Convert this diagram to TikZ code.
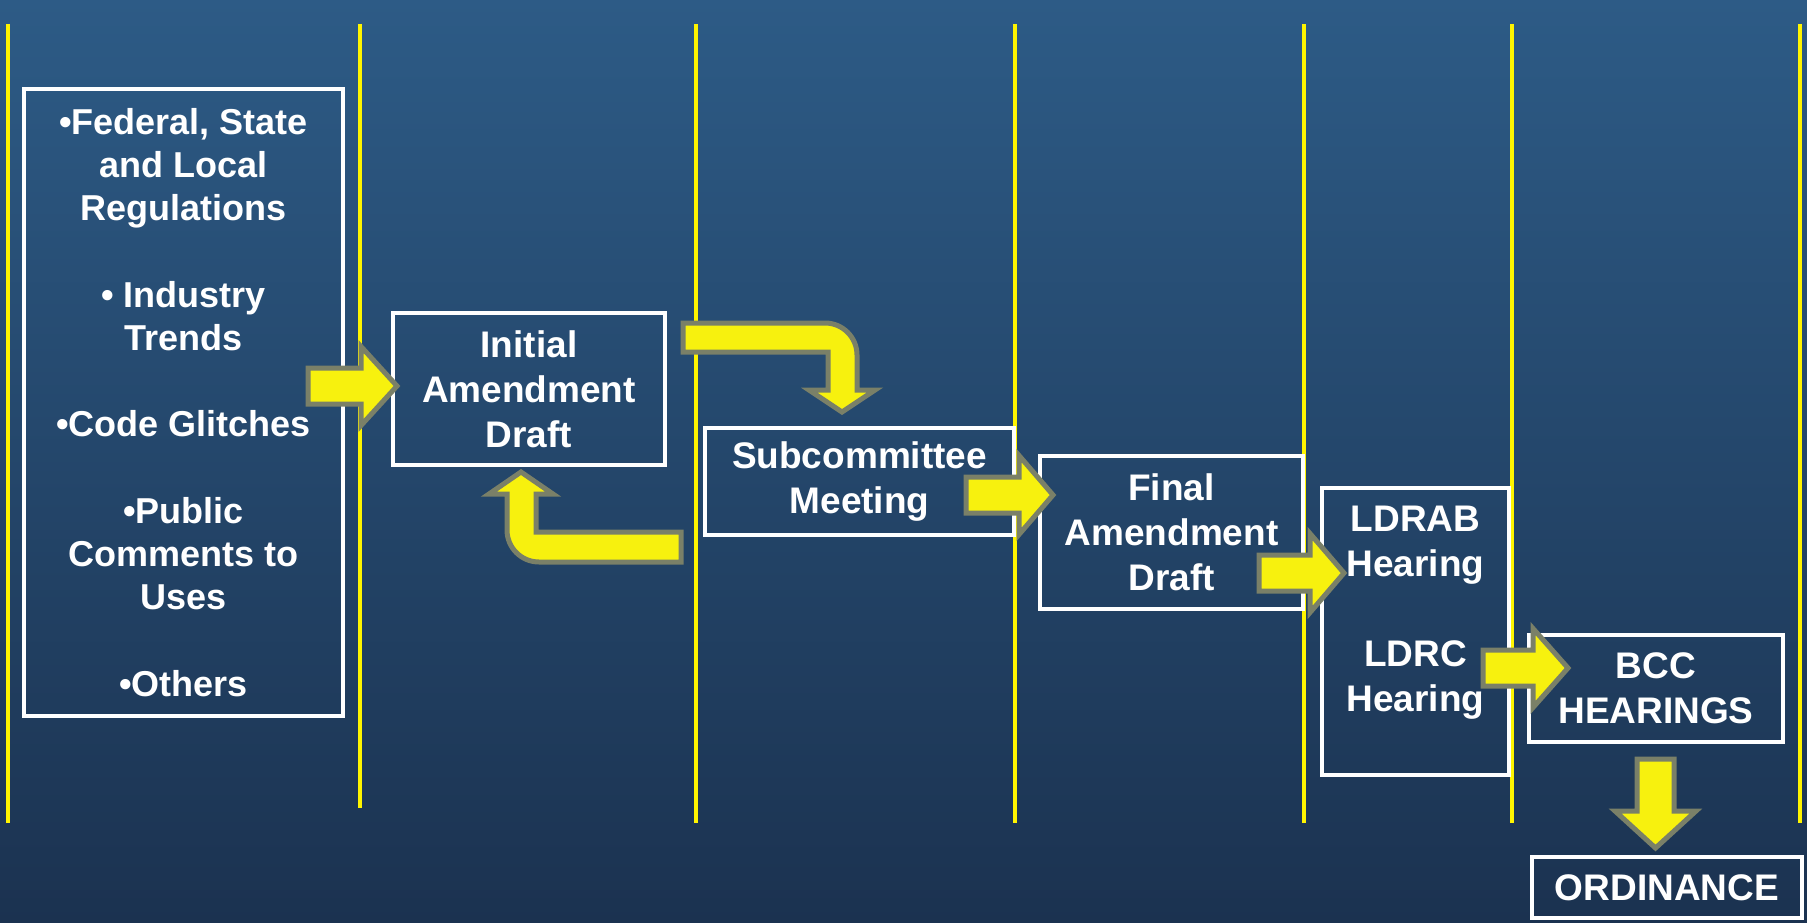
\documentclass[tikz,border=0pt]{standalone}
\usepackage{fontspec}
\setmainfont{Liberation Sans}
\definecolor{bgtop}{RGB}{45,91,134}
\definecolor{bgbot}{RGB}{27,50,80}
\definecolor{laneyellow}{RGB}{255,245,0}
\definecolor{arrowfill}{RGB}{247,241,14}
\definecolor{arrowedge}{RGB}{122,128,104}
\tikzset{
  lane/.style={draw=laneyellow, line width=4pt},
  stage/.style={draw=white, line width=4pt, inner sep=0pt, align=center,
    text=white, font=\fontsize{37}{45}\selectfont\bfseries},
  blockarrow/.style={fill=arrowfill, draw=arrowedge, line width=5pt, line join=miter},
}
% right-pointing block arrow: start x, head base x, tip x, centre y
\newcommand{\rblock}[4]{%
  \draw[blockarrow] (#1,#4-18) -- (#2,#4-18) -- (#2,#4-39.5) -- (#3,#4)
    -- (#2,#4+39.5) -- (#2,#4+18) -- (#1,#4+18) -- cycle;}
\begin{document}
\begin{tikzpicture}[x=1pt,y=-1pt]
\shade[top color=bgtop, bottom color=bgbot] (0,0) rectangle (1807,923);
\useasboundingbox (0,0) rectangle (1807,923);
% lanes
\draw[lane] (8,24) -- (8,823);
\draw[lane] (360,24) -- (360,808);
\draw[lane] (696,24) -- (696,823);
\draw[lane] (1015,24) -- (1015,823);
\draw[lane] (1303.5,24) -- (1303.5,823);
\draw[lane] (1512,24) -- (1512,823);
\draw[lane] (1800,24) -- (1800,823);
% stages
\node[stage, font=\fontsize{36}{43.2}\selectfont\bfseries,
  minimum width=319pt, minimum height=627pt] (src) at (183.5,402.5)
  {•Federal, State\\and Local\\Regulations\\[43.2pt]• Industry\\Trends\\[43.2pt]•Code Glitches\\[43.2pt]•Public\\Comments to\\Uses\\[43.2pt]•Others};
\node[stage, minimum width=272pt, minimum height=152pt] (init) at (529,389)
  {Initial\\Amendment\\Draft};
\node[stage, minimum width=309pt, minimum height=107pt] (sub) at (859.5,481.5)
  {Subcommittee\\Meeting};
\node[stage, minimum width=263pt, minimum height=153pt] (final) at (1171.5,532.5)
  {Final\\Amendment\\Draft};
\node[stage, minimum width=187pt, minimum height=287pt] (hear) at (1415.5,631.5)
  {LDRAB\\Hearing\\[45pt]LDRC\\Hearing\\\mbox{}};
\node[stage, minimum width=254pt, minimum height=107pt] (bcc) at (1656,688.5)
  {BCC\\HEARINGS};
\node[stage, minimum width=270pt, minimum height=61pt] (ord) at (1667,887.5)
  {ORDINANCE};
% block arrows
\rblock{308}{361}{397}{386}
\rblock{966}{1019}{1053}{495}
\rblock{1259}{1310}{1344}{573}
\rblock{1483}{1533}{1568}{668}
\draw[blockarrow] (683,323) -- (825,323) .. controls (842.7,323) and (857,337.3) .. (857,355)
  -- (857,390) -- (875,390) -- (842,412) -- (809,390) -- (828,390) -- (828,352) -- (683,352) -- cycle;
\draw[blockarrow] (681,532) -- (536,532) -- (536,494) -- (553,494) -- (521,472) -- (489,494)
  -- (507,494) -- (507,530) .. controls (507,547.7) and (521.3,562) .. (539,562) -- (681,562) -- cycle;
\draw[blockarrow] (1637,759) -- (1674,759) -- (1674,811) -- (1696,811) -- (1655.5,848)
  -- (1615,811) -- (1637,811) -- cycle;
\end{tikzpicture}
\end{document}
